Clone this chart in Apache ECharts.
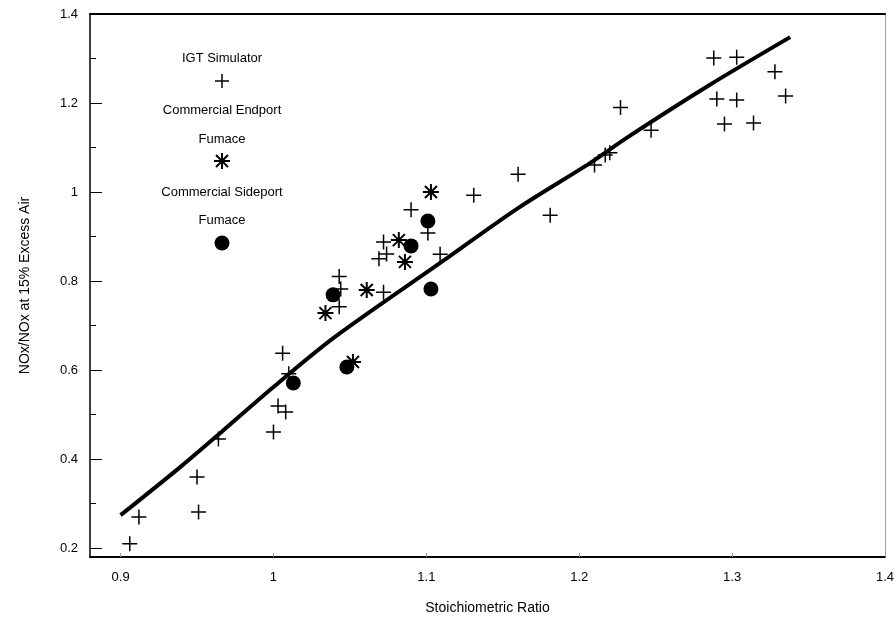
<!DOCTYPE html>
<html>
<head>
<meta charset="utf-8">
<script src="https://cdn.jsdelivr.net/npm/echarts@6/dist/echarts.min.js"></script>
<style>
html,body{margin:0;padding:0;background:#fff;}
#chart{width:895px;height:619px;}
</style>
</head>
<body>
<div id="chart"></div>
<script>
// ---- data ----
const xTickLabels = [0.9, 1.0, 1.1, 1.2, 1.3, 1.4];
const yTickLabels = [0.2, 0.4, 0.6, 0.8, 1.0, 1.2, 1.4];
const yMinorTicks = [0.3, 0.5, 0.7, 0.9, 1.1, 1.3];

const igtSimulator = [
  [0.906,0.21],[0.912,0.27],[0.95,0.36],[0.951,0.281],[0.964,0.445],
  [1.0,0.461],[1.003,0.519],[1.008,0.506],[1.006,0.638],[1.01,0.592],
  [1.043,0.81],[1.044,0.782],[1.043,0.742],[1.072,0.888],[1.069,0.85],
  [1.074,0.861],[1.072,0.775],[1.09,0.96],[1.101,0.908],[1.109,0.86],
  [1.131,0.993],[1.16,1.04],[1.181,0.948],[1.21,1.061],[1.217,1.083],
  [1.22,1.088],[1.227,1.19],[1.247,1.139],[1.288,1.301],[1.303,1.303],
  [1.29,1.209],[1.303,1.207],[1.295,1.153],[1.314,1.155],[1.328,1.27],
  [1.335,1.216]
];
const endportFurnace = [
  [1.034,0.728],[1.052,0.618],[1.061,0.78],[1.082,0.892],[1.086,0.843],[1.103,1.0]
];
const sideportFurnace = [
  [1.013,0.571],[1.039,0.769],[1.048,0.607],[1.09,0.879],[1.101,0.935],[1.103,0.782]
];
const fitLine = [
  [0.9,0.274],[0.939,0.382],[0.966,0.461],[1.0,0.562],[1.04,0.674],
  [1.11,0.843],[1.16,0.964],[1.207,1.065],[1.232,1.124],[1.285,1.24],[1.338,1.348]
];

// ---- styling ----
const FONT = 'Liberation Sans, Arial, sans-serif';
const PLUS = 'path://M0,-8L0,8M-8,0L8,0';
const STAR = 'path://M0,-8L0,8M-6,-6L6,6M-6,6L6,-6M-8,0L8,0';
const fmt = v => String(Math.round(v * 10) / 10);

function legendLines(cx, cy, segs, w) {
  return segs.map(s => ({
    type: 'line', x: cx, y: cy,
    shape: {x1: s[0], y1: s[1], x2: s[2], y2: s[3]},
    style: {stroke: '#000', lineWidth: w}
  }));
}
function legendText(t, y) {
  return {type: 'text', x: 222, y: y,
    style: {text: t, font: '13px ' + FONT, fill: '#000', align: 'center', verticalAlign: 'middle'}};
}

const chart = echarts.init(document.getElementById('chart'));
chart.setOption({
  backgroundColor: '#fff',
  animation: false,
  grid: {left: 90, right: 10, top: 14, bottom: 62, containLabel: false, outerBoundsMode: 'none'},
  xAxis: [{
    type: 'value', min: 0.88, max: 1.4,
    name: 'Stoichiometric Ratio', nameLocation: 'middle', nameGap: 44,
    nameTextStyle: {fontFamily: FONT, fontSize: 14, color: '#000'},
    axisLine: {show: true, onZero: false, lineStyle: {color: '#000', width: 2}},
    axisTick: {show: true, inside: true, length: 4, customValues: xTickLabels, lineStyle: {color: '#999', width: 1}},
    axisLabel: {customValues: xTickLabels, formatter: fmt, margin: 14, fontFamily: FONT, fontSize: 13, color: '#000'},
    splitLine: {show: false}
  }, {
    type: 'value', position: 'top', min: 0.88, max: 1.4,
    axisLine: {show: true, onZero: false, lineStyle: {color: '#000', width: 2}},
    axisTick: {show: false}, axisLabel: {show: false}, splitLine: {show: false}
  }],
  yAxis: [{
    type: 'value', min: 0.18, max: 1.4,
    name: 'NOx/NOx at 15% Excess Air', nameLocation: 'middle', nameGap: 58, nameRotate: 90,
    nameTextStyle: {fontFamily: FONT, fontSize: 14, color: '#000'},
    axisLine: {show: true, onZero: false, lineStyle: {color: '#000', width: 1.5}},
    axisTick: {show: true, inside: true, length: 12, customValues: yTickLabels, lineStyle: {color: '#000', width: 1}},
    axisLabel: {customValues: yTickLabels, formatter: fmt, margin: 12, fontFamily: FONT, fontSize: 13, color: '#000'},
    splitLine: {show: false}
  }, {
    type: 'value', position: 'left', min: 0.18, max: 1.4,
    axisLine: {show: false},
    axisTick: {show: true, inside: true, length: 6, customValues: yMinorTicks, lineStyle: {color: '#000', width: 1}},
    axisLabel: {show: false}, splitLine: {show: false}
  }, {
    type: 'value', position: 'right', min: 0.18, max: 1.4,
    axisLine: {show: true, onZero: false, lineStyle: {color: '#888', width: 1, type: 'dotted'}},
    axisTick: {show: false}, axisLabel: {show: false}, splitLine: {show: false}
  }],
  series: [{
    name: 'Fit', type: 'line', data: fitLine, showSymbol: false, smooth: 0.3,
    lineStyle: {color: '#000', width: 4}, z: 2, silent: true
  }, {
    name: 'IGT Simulator', type: 'scatter', data: igtSimulator, symbol: PLUS, symbolSize: 15,
    itemStyle: {color: 'rgba(0,0,0,0)', borderColor: '#000', borderWidth: 1.5, opacity: 1}, z: 3
  }, {
    name: 'Commercial Endport Fumace', type: 'scatter', data: endportFurnace, symbol: STAR, symbolSize: 16,
    itemStyle: {color: 'rgba(0,0,0,0)', borderColor: '#000', borderWidth: 2, opacity: 1}, z: 4
  }, {
    name: 'Commercial Sideport Fumace', type: 'scatter', data: sideportFurnace, symbol: 'circle', symbolSize: 15,
    itemStyle: {color: '#000', opacity: 1}, z: 5
  }],
  graphic: [
    legendText('IGT Simulator', 58),
    ...legendLines(222, 81, [[0,-7,0,7],[-7,0,7,0]], 1.5),
    legendText('Commercial Endport', 110),
    legendText('Fumace', 139),
    ...legendLines(222, 161, [[0,-8,0,8],[-6,-6,6,6],[-6,6,6,-6],[-8,0,8,0]], 2),
    legendText('Commercial Sideport', 192),
    legendText('Fumace', 220),
    {type: 'circle', x: 222, y: 243, shape: {cx: 0, cy: 0, r: 7.5}, style: {fill: '#000'}}
  ]
});
</script>
</body>
</html>
